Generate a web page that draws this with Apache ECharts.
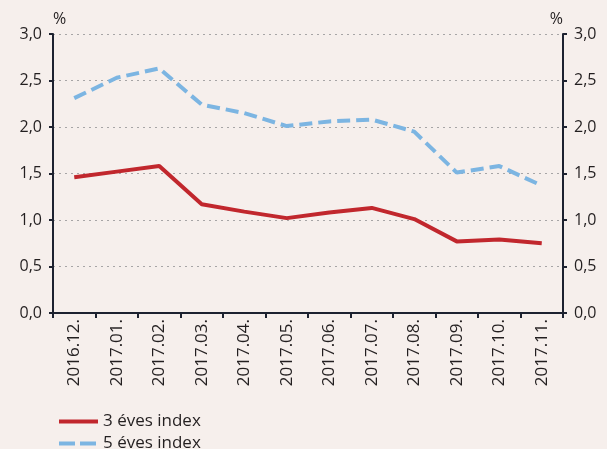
<!DOCTYPE html>
<html>
<head>
<meta charset="utf-8">
<script src="https://cdn.jsdelivr.net/npm/echarts@6/dist/echarts.min.js"></script>
<style>
html, body { margin: 0; padding: 0; background: #f6efec; }
#chart { width: 607px; height: 449px; }
</style>
</head>
<body>
<div id="chart"></div>
<script>
var months = ['2016.12.', '2017.01.', '2017.02.', '2017.03.', '2017.04.', '2017.05.',
	'2017.06.', '2017.07.', '2017.08.', '2017.09.', '2017.10.', '2017.11.'];
var index3 = [1.46, 1.52, 1.58, 1.17, 1.09, 1.02, 1.08, 1.13, 1.01, 0.77, 0.79, 0.75];
var index5 = [2.31, 2.53, 2.63, 2.24, 2.15, 2.01, 2.06, 2.08, 1.95, 1.51, 1.58, 1.37];

var chart = echarts.init(document.getElementById('chart'));
var txt = '#231f20';
var font = 'Open Sans';
var fmt = function (v) { return v.toFixed(1).replace('.', ','); };

var yAxisBase = function (pos) {
	return {
		type : 'value',
		position : pos,
		min : 0,
		max : 3,
		interval : 0.5,
		name : '%',
		nameLocation : 'end',
		nameGap : 7,
		nameTextStyle : { color : txt, fontSize : 16, fontFamily : font,
			align : pos === 'left' ? 'left' : 'right' },
		axisLine : { show : true, lineStyle : { color : '#1d2230', width : 2 } },
		axisTick : { show : true, length : 4, lineStyle : { color : '#1d2230', width : 2 } },
		axisLabel : { color : txt, fontSize : 16, fontFamily : font, formatter : fmt, margin : 11 },
		splitLine : { show : pos === 'left', lineStyle : { color : '#a7a5a6', type : [2, 4], width : 1 } }
	};
};

var legendBase = function (name, top, dash) {
	return {
		left : 52,
		top : top,
		itemWidth : 39,
		itemHeight : 4,
		itemGap : 0,
		itemStyle : { opacity : 0 },
		lineStyle : { width : 4, type : dash },
		textStyle : { color : txt, fontSize : 17, fontFamily : font },
		data : [ name ]
	};
};

var option = {
	backgroundColor : '#f6efec',
	animation : false,
	grid : { left : 53, right : 44, top : 34, bottom : 136 },
	legend : [ legendBase('3 éves index', 408, 'solid'), legendBase('5 éves index', 430, [16, 5]) ],
	xAxis : {
		type : 'category',
		data : months,
		boundaryGap : true,
		axisLine : { lineStyle : { color : '#1d2230', width : 2 } },
		axisTick : { show : true, length : 5, lineStyle : { color : '#1d2230', width : 2 } },
		axisLabel : { rotate : 90, color : txt, fontSize : 17, fontFamily : font, margin : 6, interval : 0 }
	},
	yAxis : [ yAxisBase('left'), yAxisBase('right') ],
	series : [ {
		name : '3 éves index',
		type : 'line',
		data : index3,
		symbol : 'none',
		lineStyle : { color : '#c1272d', width : 4 },
		itemStyle : { color : '#c1272d' }
	}, {
		name : '5 éves index',
		type : 'line',
		data : index5,
		symbol : 'none',
		lineStyle : { color : '#7cb5e2', width : 4, type : [13, 6] },
		itemStyle : { color : '#7cb5e2' }
	} ]
};
chart.setOption(option);
</script>
</body>
</html>
